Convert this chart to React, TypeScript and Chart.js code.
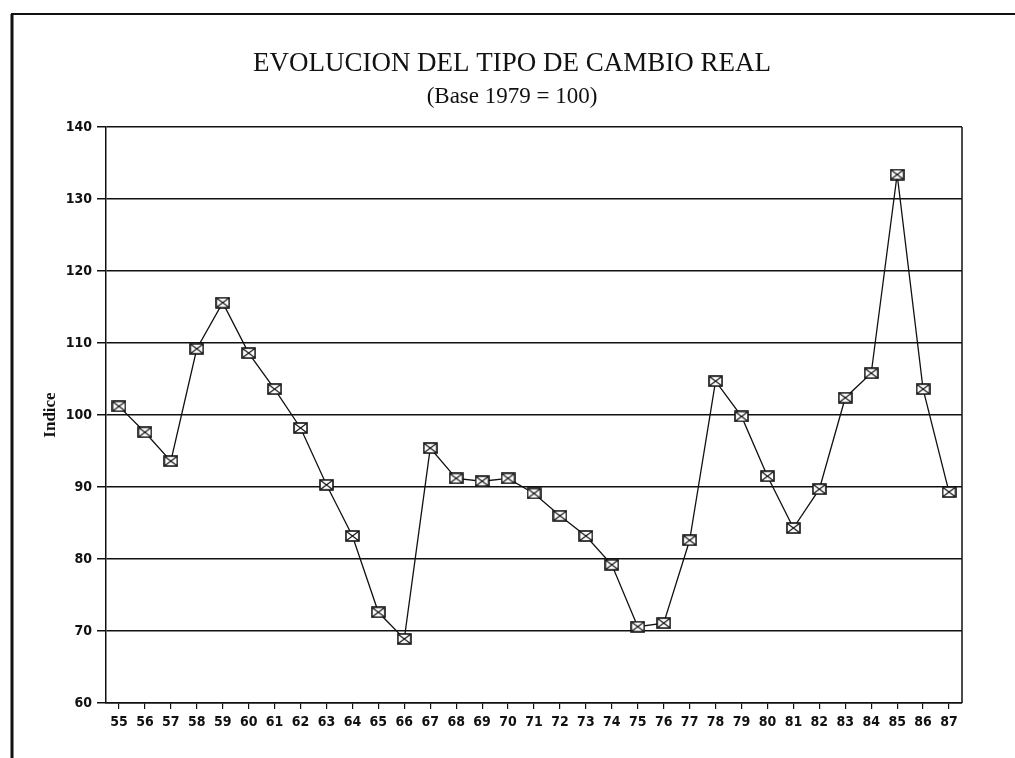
import React, { useEffect, useRef } from "react";
import { Chart, registerables } from "chart.js";

Chart.register(...registerables);

const years: string[] = [
  "55", "56", "57", "58", "59", "60", "61", "62", "63", "64", "65",
  "66", "67", "68", "69", "70", "71", "72", "73", "74", "75", "76",
  "77", "78", "79", "80", "81", "82", "83", "84", "85", "86", "87",
];

const indexValues: number[] = [
  101.2, 97.6, 93.6, 109.2, 115.6, 108.6, 103.6, 98.2, 90.3, 83.2, 72.6,
  68.9, 95.4, 91.2, 90.8, 91.2, 89.1, 86.0, 83.2, 79.2, 70.6, 71.1,
  82.6, 104.7, 99.8, 91.5, 84.3, 89.7, 102.4, 105.8, 133.4, 103.6, 89.3,
];

const titleText = "EVOLUCION DEL TIPO DE CAMBIO REAL";
const subtitleText = "(Base 1979 = 100)";
const yAxisTitle = "Indice";
const yMin = 60;
const yMax = 140;
const yStep = 10;

function makeMarker(): HTMLCanvasElement {
  const c = document.createElement("canvas");
  const w = 15;
  const h = 12;
  c.width = w;
  c.height = h;
  const ctx = c.getContext("2d")!;
  ctx.fillStyle = "#ffffff";
  ctx.fillRect(1, 1, w - 2, h - 2);
  ctx.strokeStyle = "#111";
  ctx.lineWidth = 1.6;
  ctx.strokeRect(1, 1, w - 2, h - 2);
  ctx.lineWidth = 1.1;
  ctx.beginPath();
  ctx.moveTo(1.5, 1.5);
  ctx.lineTo(w - 1.5, h - 1.5);
  ctx.moveTo(w - 1.5, 1.5);
  ctx.lineTo(1.5, h - 1.5);
  ctx.stroke();
  return c;
}

const framePlugin = {
  id: "framePlugin",
  beforeDraw(chart: any) {
    const ctx = chart.ctx;
    ctx.save();
    ctx.fillStyle = "#ffffff";
    ctx.fillRect(0, 0, chart.width, chart.height);
    ctx.restore();
  },
  afterDraw(chart: any) {
    const ctx = chart.ctx;
    const a = chart.chartArea;
    ctx.save();
    ctx.strokeStyle = "#111";
    ctx.lineWidth = 1.5;
    ctx.beginPath();
    ctx.moveTo(a.right, a.top);
    ctx.lineTo(a.right, a.bottom);
    ctx.stroke();
    // outer page frame
    ctx.lineWidth = 3;
    ctx.beginPath();
    ctx.moveTo(12, 14);
    ctx.lineTo(12, chart.height);
    ctx.stroke();
    ctx.lineWidth = 2;
    ctx.beginPath();
    ctx.moveTo(11, 14);
    ctx.lineTo(chart.width, 14);
    ctx.stroke();
    ctx.restore();
  },
};

export default function App() {
  const ref = useRef<HTMLCanvasElement | null>(null);

  useEffect(() => {
    if (!ref.current) return;
    const marker = makeMarker();
    const tickFont = {
      family: "'DejaVu Sans Condensed', 'Liberation Sans Narrow', sans-serif",
      size: 14,
      weight: "bold" as const,
    };
    const chart = new Chart(ref.current, {
      type: "line",
      data: {
        labels: years,
        datasets: [
          {
            data: indexValues,
            borderColor: "#111",
            borderWidth: 1.3,
            tension: 0,
            pointStyle: marker as any,
            pointRadius: 7,
            pointHoverRadius: 7,
            yAxisID: "y",
          },
        ],
      },
      options: {
        animation: false,
        responsive: false,
        devicePixelRatio: 1,
        layout: { padding: { left: 9, right: 0, top: 0, bottom: 0 } },
        plugins: {
          legend: { display: false },
          tooltip: { enabled: false },
          title: {
            display: true,
            text: titleText,
            color: "#111",
            font: { family: "'Liberation Serif', serif", size: 27, weight: "normal" },
            padding: { top: 48, bottom: 0 },
          },
          subtitle: {
            display: true,
            text: subtitleText,
            color: "#111",
            font: { family: "'Liberation Serif', serif", size: 23, weight: "normal" },
            padding: { top: 2.8, bottom: 16.2 },
          },
        },
        scales: {
          x: {
            type: "category",
            offset: true,
            grid: {
              display: true,
              drawOnChartArea: false,
              drawTicks: true,
              tickLength: 6,
              color: "#111",
              lineWidth: 1.2,
            },
            border: { display: true, color: "#111", width: 1.5 },
            ticks: {
              color: "#111",
              font: tickFont,
              padding: 5,
              autoSkip: false,
              maxRotation: 0,
              minRotation: 0,
            },
            afterFit: (scale: any) => {
              scale.height = 55;
            },
          },
          y: {
            min: yMin,
            max: yMax,
            grid: {
              display: true,
              drawOnChartArea: true,
              drawTicks: true,
              tickLength: 9,
              color: "#111",
              lineWidth: 1.5,
            },
            border: { display: true, color: "#111", width: 1.5 },
            ticks: {
              stepSize: yStep,
              color: "#111",
              font: tickFont,
              padding: 5,
            },
            title: {
              display: true,
              text: yAxisTitle,
              color: "#111",
              font: { family: "'Liberation Serif', serif", size: 17, weight: "bold" },
              padding: { top: 31, bottom: 0 },
            },
            afterFit: (scale: any) => {
              scale.width = 97;
            },
          },
          yRight: {
            type: "linear",
            position: "right",
            min: yMin,
            max: yMax,
            display: true,
            grid: { display: false, drawOnChartArea: false, drawTicks: false },
            border: { display: false },
            ticks: { display: false },
            afterFit: (scale: any) => {
              scale.width = 53;
            },
          },
        },
      },
      plugins: [framePlugin],
    });
    return () => chart.destroy();
  }, []);

  return (
    <div style={{ position: "fixed", left: 0, top: 0, width: 1015, height: 758, background: "#fff" }}>
      <canvas ref={ref} width={1015} height={758} style={{ display: "block" }} />
    </div>
  );
}
